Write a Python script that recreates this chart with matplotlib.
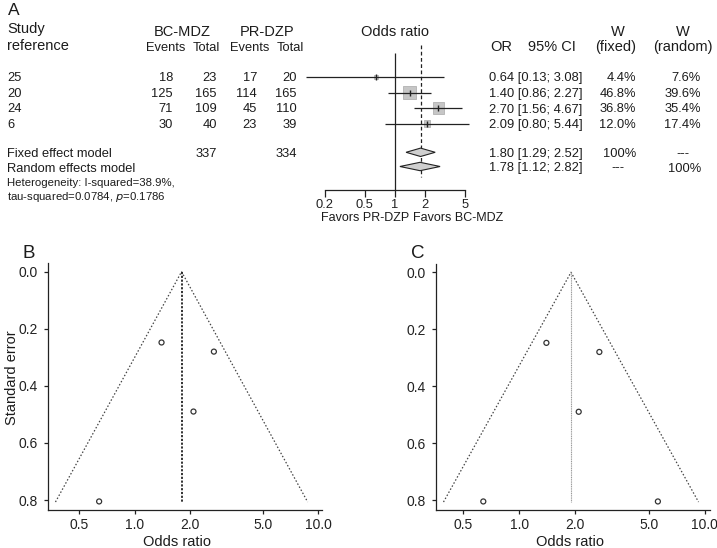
import matplotlib
matplotlib.use('Agg')
import matplotlib.pyplot as plt
from matplotlib.ticker import NullLocator, FixedLocator, FixedFormatter
import numpy as np

plt.rcParams['font.family'] = ['Liberation Sans', 'DejaVu Sans']

# ---------------- data ----------------
studies = ["25", "20", "24", "6"]
bc_events = [18, 125, 71, 30]
bc_total = [23, 165, 109, 40]
pr_events = [17, 114, 45, 23]
pr_total = [20, 165, 110, 39]
or_est = [0.64, 1.40, 2.70, 2.09]
ci_lo = [0.13, 0.86, 1.56, 0.80]
ci_hi = [3.08, 2.27, 4.67, 5.44]
w_fixed = [4.4, 46.8, 36.8, 12.0]
w_random = [7.6, 39.6, 35.4, 17.4]
bc_sum, pr_sum = 337, 334
fixed_model = [1.80, 1.29, 2.52]
random_model = [1.78, 1.12, 2.82]
heterogeneity = ["Heterogeneity: I-squared=38.9%,", "tau-squared=0.0784, "]
forest_ticks = [0.2, 0.5, 1, 2, 5]
forest_ticklabels = ["0.2", "0.5", "1", "2", "5"]

funnel_se = [0.805, 0.248, 0.280, 0.490]
filled_or = [5.58]
filled_se = [0.805]
centre_B = 1.80
centre_C = 1.90
se_max = 0.807
funnel_xticks = [0.5, 1.0, 2.0, 5.0, 10.0]
funnel_xlabels = ["0.5", "1.0", "2.0", "5.0", "10.0"]
funnel_yticks = [0.0, 0.2, 0.4, 0.6, 0.8]
funnel_ylabels = ["0.0", "0.2", "0.4", "0.6", "0.8"]

# ---------------- layout ----------------
W, H = 717, 548
fig = plt.figure(figsize=(W / 100, H / 100), dpi=100)
TXT = '#1c1c1c'
LN = '#222222'


def t(x, y, s, size=9.3, ha='left', **kw):
    fig.text(x / W, 1 - y / H, s, size=size, ha=ha, va='baseline', color=TXT, **kw)


# ---------------- panel A: forest ----------------
axF = fig.add_axes([300 / W, 1 - 230 / H, 180 / W, 210 / H])
axF.set_xscale('log')
axF.set_xlim(0.1126, 7.06)
axF.set_ylim(230, 20)
axF.patch.set_alpha(0)
for s in ['top', 'right', 'left']:
    axF.spines[s].set_visible(False)
axF.spines['bottom'].set_position(('data', 190))
axF.spines['bottom'].set_bounds(0.2, 5)
axF.spines['bottom'].set_color(LN)
axF.spines['bottom'].set_linewidth(0.9)
axF.xaxis.set_major_locator(FixedLocator(forest_ticks))
axF.xaxis.set_major_formatter(FixedFormatter(forest_ticklabels))
axF.xaxis.set_minor_locator(NullLocator())
axF.tick_params(axis='x', direction='out', length=5, width=0.9, pad=1.5,
                labelsize=9.3, colors=LN)
axF.set_yticks([])

rows = [77, 92.5, 108, 123.5]
row_fixed, row_random = 152.3, 166.5

axF.vlines(1, 53, 190, color=LN, lw=0.9)
axF.vlines(fixed_model[0], 45, 177, color=LN, lw=0.9, linestyles=(0, (3, 2)))
axF.hlines(rows, ci_lo, ci_hi, color=LN, lw=0.9, zorder=3)
wmax = max(w_fixed)
sizes = [(9.2 * np.sqrt(w / wmax)) ** 2 for w in w_fixed]
axF.scatter(or_est, rows, marker='s', s=sizes, c='#c6c6c6', edgecolors='#a8a8a8',
            linewidths=0.5, zorder=2)
axF.scatter(or_est, rows, marker='|', s=14, c=LN, linewidths=1, zorder=4)
for (est, lo, hi), y in [(fixed_model, row_fixed), (random_model, row_random)]:
    axF.fill([lo, est, hi, est, lo], [y, y - 4.2, y, y + 4.2, y],
             fc='#cfcfcf', ec=LN, lw=0.8, zorder=3)

# headers
t(8, 15, "A", size=12.5)
t(7, 33.3, "Study", size=10.5)
t(7, 50, "reference", size=10.5)
t(182, 36.5, "BC-MDZ", size=10.5, ha='center')
t(267.5, 36.5, "PR-DZP", size=10.5, ha='center')
t(165.3, 50.7, "Events", ha='center')
t(206, 50.7, "Total", ha='center')
t(250, 50.7, "Events", ha='center')
t(290, 50.7, "Total", ha='center')
t(395, 36, "Odds ratio", size=10.5, ha='center')
t(501, 51, "OR", size=10.5, ha='center')
t(552, 51, "95% CI", size=10.5, ha='center')
t(618, 36, "W", size=10.5, ha='center')
t(616, 51, "(fixed)", size=10.5, ha='center')
t(683, 36, "W", size=10.5, ha='center')
t(683, 51, "(random)", size=10.5, ha='center')

# study rows
for i, y in enumerate(rows):
    yb = y + 4.5
    t(7, yb, studies[i])
    t(173, yb, str(bc_events[i]), ha='right')
    t(217, yb, str(bc_total[i]), ha='right')
    t(257, yb, str(pr_events[i]), ha='right')
    t(297, yb, str(pr_total[i]), ha='right')
    t(489, yb, f"{or_est[i]:.2f} [{ci_lo[i]:.2f}; {ci_hi[i]:.2f}]")
    t(636, yb, f"{w_fixed[i]:.1f}%", ha='right')
    t(701, yb, f"{w_random[i]:.1f}%", ha='right')

# model rows
t(7, 156.7, "Fixed effect model")
t(217, 156.7, str(bc_sum), ha='right')
t(297, 156.7, str(pr_sum), ha='right')
t(489, 156.7, f"{fixed_model[0]:.2f} [{fixed_model[1]:.2f}; {fixed_model[2]:.2f}]")
t(636, 156.7, "100%", ha='right')
t(683, 156.7, "---", ha='center')
t(7, 171.5, "Random effects model")
t(489, 171.5, f"{random_model[0]:.2f} [{random_model[1]:.2f}; {random_model[2]:.2f}]")
t(618, 171.5, "---", ha='center')
t(701, 171.5, "100%", ha='right')
t(7, 186.5, heterogeneity[0], size=8.2)
fig.text(7 / W, 1 - 200.5 / H, heterogeneity[1] + r"$\it{p}$" + "=0.1786",
         size=8.2, ha='left', va='baseline', color=TXT)
t(365, 221, "Favors PR-DZP", size=9, ha='center')
t(458, 221, "Favors BC-MDZ", size=9, ha='center')


# ---------------- panels B and C: funnels ----------------
def funnel(rect, xlim, ylim, pts_or, pts_se, centre, vline_kw):
    ax = fig.add_axes(rect)
    ax.set_xscale('log')
    ax.set_xlim(*xlim)
    ax.set_ylim(*ylim)
    for s in ['top', 'right']:
        ax.spines[s].set_visible(False)
    for s in ['left', 'bottom']:
        ax.spines[s].set_color(LN)
        ax.spines[s].set_linewidth(0.9)
    ax.xaxis.set_major_locator(FixedLocator(funnel_xticks))
    ax.xaxis.set_major_formatter(FixedFormatter(funnel_xlabels))
    ax.xaxis.set_minor_locator(NullLocator())
    ax.yaxis.set_major_locator(FixedLocator(funnel_yticks))
    ax.yaxis.set_major_formatter(FixedFormatter(funnel_ylabels))
    ax.tick_params(direction='out', length=3, width=0.9, labelsize=10, colors=LN)
    ax.tick_params(axis='y', pad=4.3)
    ax.tick_params(axis='x', pad=2.5)
    ax.plot([centre * np.exp(-1.96 * se_max), centre, centre * np.exp(1.96 * se_max)],
            [se_max, 0, se_max], ls=(0, (1.2, 1.6)), lw=0.9, color='#444444')
    ax.vlines(centre, 0, se_max, **vline_kw)
    ax.scatter(pts_or, pts_se, s=13, facecolors='none', edgecolors='#333333',
               linewidths=0.9, zorder=3)
    return ax


axB = funnel([48 / W, 1 - 510 / H, 273.7 / W, 247 / H], (0.337, 10.44), (0.835, -0.0305),
             or_est, funnel_se, centre_B,
             dict(colors='#222222', lw=1.3, linestyles=(0, (1.2, 0.9))))
axC = funnel([436 / W, 1 - 510 / H, 274 / W, 246 / H], (0.356, 10.65), (0.835, -0.029),
             or_est + filled_or, funnel_se + filled_se, centre_C,
             dict(colors='#9a9a9a', lw=0.8, linestyles=(0, (1, 0.6))))

t(23, 258, "B", size=13.5)
t(411, 258, "C", size=13.5)
t(177, 546, "Odds ratio", size=10.5, ha='center')
t(570, 546, "Odds ratio", size=10.5, ha='center')
fig.text(12 / W, 1 - 378 / H, "Standard error", size=10.5, rotation=90,
         ha='center', va='center', color=TXT)

fig.savefig('out.png', dpi=100)
